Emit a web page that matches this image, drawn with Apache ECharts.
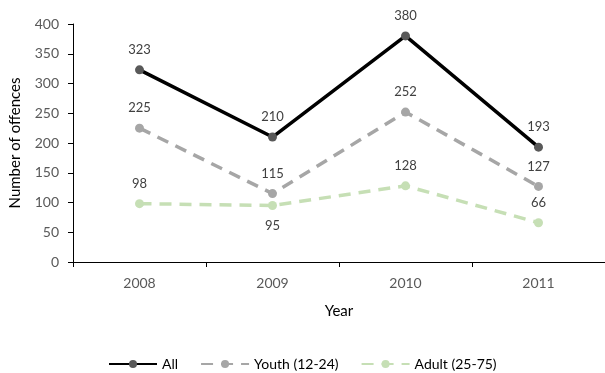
<!DOCTYPE html>
<html><head><meta charset="utf-8">
<script src="https://cdn.jsdelivr.net/npm/echarts@6/dist/echarts.min.js"></script>
<style>html,body{margin:0;padding:0;background:#fff}#c{width:605px;height:373px}</style>
</head><body><div id="c"></div>
<script>
const years = ['2008','2009','2010','2011'];
const allVals = [323,210,380,193];
const youthVals = [225,115,252,127];
const adultVals = [98,95,128,66];
const adultLabelPos = ['top','bottom','top','top'];

const font = 'Lato, "Liberation Sans", sans-serif';
const chart = echarts.init(document.getElementById('c'));
function lbl(pos){return {show:true,position:pos,distance:9,color:'#404040',fontSize:13,fontFamily:font};}
chart.setOption({
  animation:false,
  textStyle:{fontFamily:font},
  grid:{left:72,top:24,bottom:111,right:-8,containLabel:false},
  xAxis:{type:'category',data:years,boundaryGap:true,
    name:'Year',nameLocation:'middle',nameGap:42,
    nameTextStyle:{color:'#000',fontSize:15,fontFamily:font},
    axisLine:{lineStyle:{color:'#000',width:1}},
    axisTick:{show:true,length:5,lineStyle:{color:'#000'}},
    axisLabel:{color:'#595959',fontSize:14,margin:14,fontFamily:font}},
  yAxis:{type:'value',min:0,max:400,interval:50,
    name:'Number of offences',nameLocation:'middle',nameGap:50,
    nameTextStyle:{color:'#000',fontSize:15,fontFamily:font},
    axisLine:{show:true,lineStyle:{color:'#000',width:1}},
    axisTick:{show:true,length:5,lineStyle:{color:'#000'}},
    splitLine:{show:false},
    axisLabel:{color:'#595959',fontSize:14,margin:14,fontFamily:font}},
  legend:{bottom:2,left:108,padding:0,itemWidth:48,itemHeight:10,itemGap:22,
    textStyle:{color:'#000',fontSize:14,fontFamily:font},
    data:['All','Youth (12-24)','Adult (25-75)']},
  series:[
    {name:'All',type:'line',data:allVals,symbol:'circle',symbolSize:9,
      lineStyle:{color:'#000',width:3.5},itemStyle:{color:'#595959'},label:lbl('top')},
    {name:'Youth (12-24)',type:'line',data:youthVals,symbol:'circle',symbolSize:9,
      lineStyle:{color:'#A6A6A6',width:3.5,type:[12,8]},itemStyle:{color:'#A6A6A6'},label:lbl('top')},
    {name:'Adult (25-75)',type:'line',data:adultVals.map((v,i)=>({value:v,label:{position:adultLabelPos[i]}})),symbol:'circle',symbolSize:9,
      lineStyle:{color:'#C6DFB5',width:3.5,type:[12,8]},itemStyle:{color:'#C6DFB5'},label:lbl('top')}
  ]
});
</script></body></html>
